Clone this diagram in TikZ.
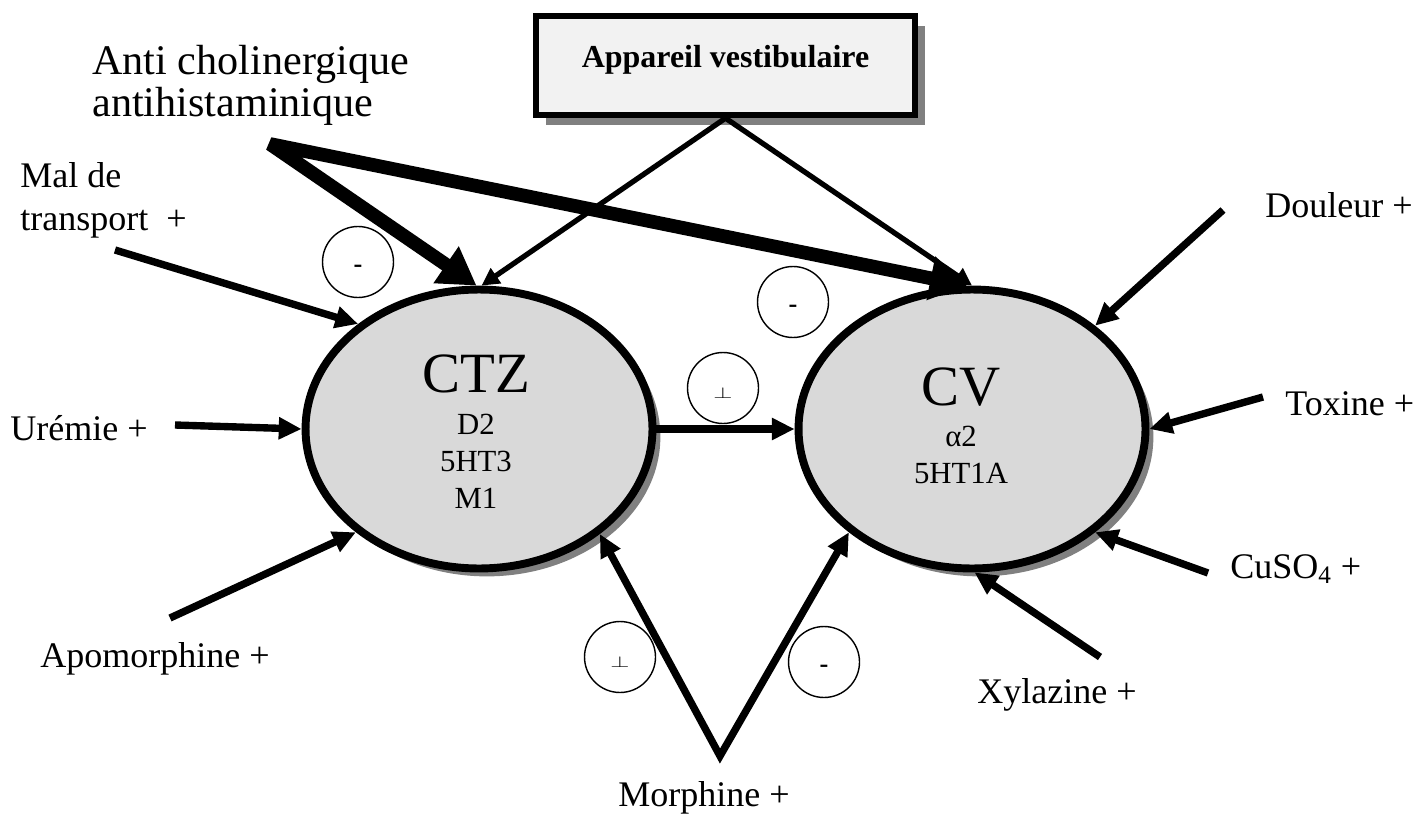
\documentclass[tikz,border=0pt]{standalone}
\usepackage{fontspec}
\setmainfont{Liberation Serif}
\usetikzlibrary{positioning,shapes.geometric,arrows.meta,shadows}

\definecolor{centrefill}{HTML}{D9D9D9}
\definecolor{boxfill}{HTML}{F2F2F2}
\definecolor{shadowgrey}{HTML}{808080}

\begin{document}
\begin{tikzpicture}[
    x=0.02cm, y=-0.02cm,
    centre/.style={ellipse, draw, line width=4.5pt, fill=centrefill, inner sep=0pt,
      minimum width=6.94cm, minimum height=5.58cm,
      drop shadow={shadow xshift=4.5pt, shadow yshift=-4.5pt, fill=shadowgrey, opacity=1}},
    vestbox/.style={rectangle, draw, line width=3.6pt, fill=boxfill,
      minimum width=7.58cm, minimum height=1.98cm, text depth=10.7pt,
      font=\fontsize{18.2}{22}\bfseries\selectfont,
      drop shadow={shadow xshift=5.5pt, shadow yshift=-5.5pt, fill=shadowgrey, opacity=1}},
    factor/.style={anchor=base west, align=left, inner sep=0pt,
      font=\fontsize{20.5}{24}\selectfont},
    sign/.style={circle, draw, line width=0.8pt, minimum size=1.42cm, inner sep=0pt},
    push/.style={line width=4.2pt, -{Triangle[length=13pt,width=12pt]}},
    vestline/.style={line width=3pt, line join=miter,
      {Triangle[length=10pt,width=10pt]}-{Triangle[length=10pt,width=10pt]}},
    blocker/.style={line width=7.8pt, line join=bevel,
      {Triangle[length=21pt,width=24pt]}-{Triangle[length=21pt,width=24pt]}},
    morphline/.style={line width=4.2pt, line join=miter,
      {Triangle[length=13pt,width=12pt]}-{Triangle[length=13pt,width=12pt]}}
]
  \useasboundingbox (0,0) rectangle (1425,814);

  % Centres
  \node[centre] (ctz) at (479,429) {};
  \node[centre] (cv)  at (972,429) {};
  \node[anchor=base, font=\fontsize{32.4}{36}\selectfont] (ctzname) at (476,392) {CTZ};
  \node[anchor=base, align=center, font=\fontsize{17.5}{20.8}\selectfont] (ctzrec) at (476,508) {D2\\5HT3\\M1};
  \node[anchor=base, font=\fontsize{32.4}{36}\selectfont] (cvname) at (961,405) {CV};
  \node[anchor=base, align=center, font=\fontsize{17.5}{20.8}\selectfont] (cvrec) at (961,483) {α2\\5HT1A};

  % Vestibular box
  \node[vestbox] (vest) at (725.5,65.5) {Appareil vestibulaire};

  % Labels
  \node[factor, font=\fontsize{24}{24}\selectfont] (anti) at (92,117) {Anti cholinergique\\antihistaminique};
  \node[factor] (maltr)  at (20,230)  {Mal de\\transport\ \ +};
  \node[factor] (urem)   at (10,440)  {Urémie +};
  \node[factor] (apo)    at (40,667)  {Apomorphine +};
  \node[factor] (morph)  at (618,806) {Morphine +};
  \node[factor] (xyl)    at (977,703) {Xylazine +};
  \node[factor] (cuso)   at (1230,578) {CuSO\textsubscript{4} +};
  \node[factor] (toxine) at (1285,415) {Toxine +};
  \node[factor] (doul)   at (1265,217) {Douleur +};

  % Free ends
  \coordinate (antistart)  at (270,144);
  \coordinate (maltrstart) at (115,250);
  \coordinate (uremstart)  at (175,425);
  \coordinate (apostart)   at (170,618);
  \coordinate (morphstart) at (720,756);
  \coordinate (xylstart)   at (1100,657);
  \coordinate (cusostart)  at (1208,573);
  \coordinate (toxstart)   at (1263,397);
  \coordinate (doulstart)  at (1223,210);

  % Arrows
  \draw[vestline] (ctz.89) -- (vest.south) -- (cv.90);
  \draw[blocker] (ctz.91) -- (antistart) -- (cv.92);
  \draw[push] (maltrstart) -- (ctz.139.5);
  \draw[push] (uremstart) -- (ctz.180);
  \draw[push] (apostart) -- (ctz.220);
  \draw[push] (ctz.east) -- (cv.west);
  \draw[morphline] (ctz.319.4) -- (morphstart) -- (cv.220.8);
  \draw[push] (xylstart) -- (cv.271);
  \draw[push] (cusostart) -- (cv.320.2);
  \draw[push] (toxstart) -- (cv.0);
  \draw[push] (doulstart) -- (cv.40.8);

  % Signs
  \node[sign] (signmal)   at (358,262) {\raisebox{-6pt}[0pt][0pt]{\fontsize{15}{18}\bfseries -}};
  \node[sign] (signtop)   at (793,302) {\raisebox{-6pt}[0pt][0pt]{\fontsize{15}{18}\bfseries -}};
  \node[sign] (signmid)   at (723,388) {\raisebox{-6pt}[0pt][0pt]{\scalebox{1.4}[0.9]{$\perp$}}};
  \node[sign] (signmorph) at (620,657) {\raisebox{-6pt}[0pt][0pt]{\scalebox{1.4}[0.9]{$\perp$}}};
  \node[sign] (signcv)    at (824,662) {\raisebox{-6pt}[0pt][0pt]{\fontsize{15}{18}\bfseries -}};
\end{tikzpicture}
\end{document}
